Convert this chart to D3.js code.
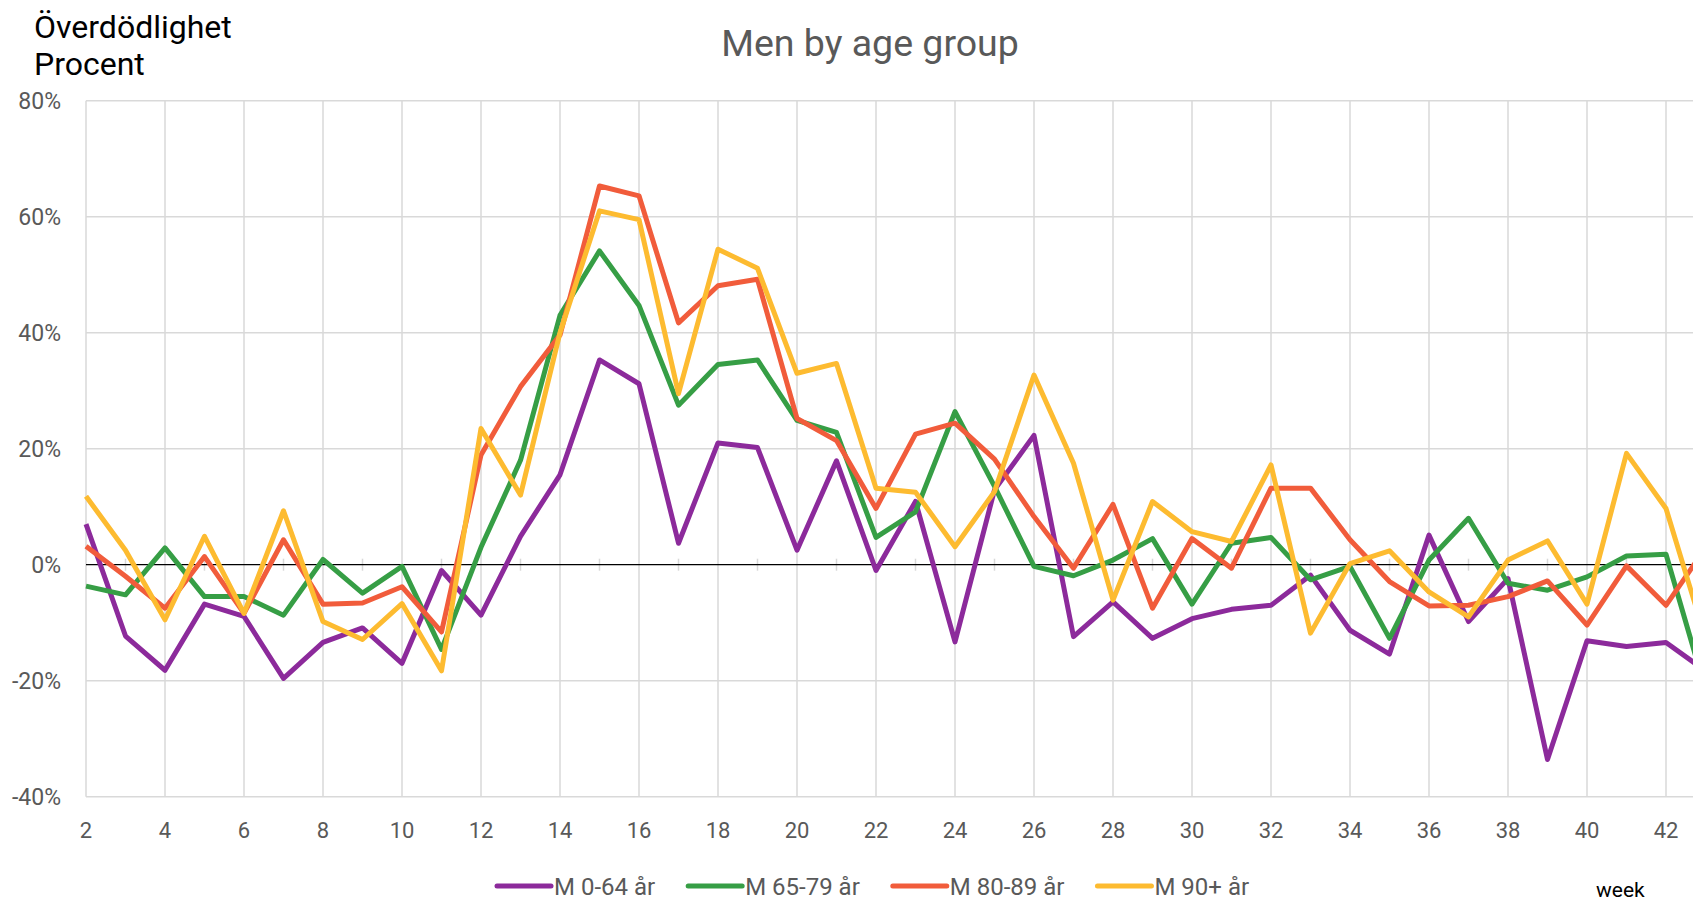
<!DOCTYPE html>
<html>
<head>
  <meta charset="utf-8">
  <script type="text/javascript" src="https://d3js.org/d3.v7.min.js"></script>
  <style>
    body {
      margin: 0;
      background-color: white;
    }
    svg {
      display: block;
      font-family: Roboto, "Noto Sans", sans-serif;
    }
    .series {
      fill: none;
      stroke-width: 5;
      stroke-linejoin: round;
    }
  </style>
</head>
<body>
  <svg id="canvas" width="1693" height="903"></svg>
</body>
<script>
  // weekly excess mortality, percent
  const weeks = [2, 3, 4, 5, 6, 7, 8, 9, 10, 11, 12, 13, 14, 15, 16, 17, 18, 19, 20, 21, 22,
                 23, 24, 25, 26, 27, 28, 29, 30, 31, 32, 33, 34, 35, 36, 37, 38, 39, 40, 41, 42, 43];

  const m0_64 = [7.0, -12.3, -18.2, -6.8, -8.9, -19.6, -13.4, -10.9, -17.0, -1.0, -8.7, 4.9, 15.5, 35.3,
                 31.2, 3.7, 21.0, 20.2, 2.5, 17.9, -1.0, 10.9, -13.3, 12.9, 22.3, -12.4, -6.4, -12.7,
                 -9.3, -7.7, -7.0, -1.8, -11.3, -15.4, 5.1, -9.8, -2.4, -33.6, -13.1, -14.1, -13.4, -18.3];
  const m65_79 = [-3.7, -5.2, 2.9, -5.5, -5.5, -8.7, 0.9, -4.9, -0.3, -14.6, 3.0, 18.0, 43.0, 54.1,
                  44.7, 27.5, 34.5, 35.3, 24.9, 22.8, 4.7, 9.1, 26.4, 13.5, -0.3, -1.9, 0.8, 4.5,
                  -6.8, 3.7, 4.7, -2.6, -0.3, -12.7, 0.8, 8.0, -3.2, -4.4, -2.1, 1.5, 1.8, -21.6];
  const m80_89 = [3.2, -2.0, -7.5, 1.4, -8.4, 4.3, -6.8, -6.6, -3.8, -11.6, 18.9, 30.7, 39.6, 65.3,
                  63.6, 41.7, 48.1, 49.2, 25.2, 21.4, 9.7, 22.5, 24.4, 18.2, 8.3, -0.6, 10.4, -7.5,
                  4.5, -0.6, 13.2, 13.2, 4.3, -2.9, -7.1, -7.0, -5.5, -2.8, -10.4, -0.2, -7.0, 2.9];
  const m90 = [11.8, 2.5, -9.5, 4.9, -8.4, 9.3, -9.8, -12.9, -6.7, -18.3, 23.5, 12.0, 40.0, 61.0,
               59.5, 29.5, 54.4, 51.1, 33.0, 34.7, 13.2, 12.5, 3.1, 12.6, 32.7, 17.5, -6.1, 10.9,
               5.7, 4.0, 17.2, -11.8, 0.2, 2.4, -4.7, -9.0, 0.8, 4.1, -6.8, 19.2, 9.7, -12.7];

  const seriesNames = ["M 0-64 år", "M 65-79 år", "M 80-89 år", "M 90+ år"];
  const seriesColors = ["#8c2a9b", "#369e45", "#f15c3b", "#fdbb30"];
  const yTicks = [-40, -20, 0, 20, 40, 60, 80];
  const xTicks = [2, 4, 6, 8, 10, 12, 14, 16, 18, 20, 22, 24, 26, 28, 30, 32, 34, 36, 38, 40, 42];

  const width = 1693, height = 903;
  const plot = { left: 86, right: 1693, top: 100.7, bottom: 796.7 };
  const grey = "#595959", gridColor = "#d9d9d9";

  let svg = d3.select("svg");

  let x = d3.scaleLinear().domain([2, 42]).range([plot.left, 1666]);
  let y = d3.scaleLinear().domain([-40, 80]).range([plot.bottom, plot.top]);

  draw();

  function draw() {
    drawGrid();
    drawAxes();
    drawSeries();
    drawLegend();
    drawTitles();
  }

  function drawGrid() {
    let g = svg.append("g").attr("class", "grid");
    // horizontal gridlines
    g.selectAll("line.h")
      .data(yTicks.filter(d => d !== 0))
      .join("line")
        .attr("x1", plot.left).attr("x2", plot.right)
        .attr("y1", d => y(d)).attr("y2", d => y(d))
        .attr("stroke", gridColor).attr("stroke-width", 1.5);
    // vertical gridlines at even weeks
    g.selectAll("line.v")
      .data(xTicks)
      .join("line")
        .attr("x1", d => x(d)).attr("x2", d => x(d))
        .attr("y1", plot.top).attr("y2", plot.bottom)
        .attr("stroke", gridColor).attr("stroke-width", 1.5);
  }

  function drawAxes() {
    // zero line with small tick marks at the odd weeks
    let zero = svg.append("g").attr("transform", `translate(0,${y(0)})`);
    zero.selectAll("line.tick")
      .data(weeks.filter(d => d % 2 === 1))
      .join("line")
        .attr("x1", d => x(d)).attr("x2", d => x(d))
        .attr("y1", -6).attr("y2", 6)
        .attr("stroke", gridColor).attr("stroke-width", 1.5);
    zero.append("line")
      .attr("x1", plot.left).attr("x2", plot.right)
      .attr("stroke", "black").attr("stroke-width", 1.3);

    svg.append("g")
      .selectAll("text")
      .data(yTicks)
      .join("text")
        .attr("x", 61)
        .attr("y", d => y(d))
        .attr("dy", "0.36em")
        .attr("text-anchor", "end")
        .attr("font-size", 23)
        .attr("fill", grey)
        .text(d => d + "%");

    svg.append("g")
      .selectAll("text")
      .data(xTicks)
      .join("text")
        .attr("x", d => x(d))
        .attr("y", 838)
        .attr("text-anchor", "middle")
        .attr("font-size", 22)
        .attr("fill", grey)
        .text(d => d);
  }

  function drawSeries() {
    let all = [m0_64, m65_79, m80_89, m90];
    let line = d3.line()
      .x((d, i) => x(weeks[i]))
      .y(d => y(d));
    svg.append("g")
      .selectAll("path")
      .data(all)
      .join("path")
        .attr("class", "series")
        .attr("stroke", (d, i) => seriesColors[i])
        .attr("d", line);
  }

  function drawLegend() {
    let legend = svg.append("g").attr("transform", "translate(497,886)");
    let offset = 0;
    seriesNames.forEach((name, i) => {
      let item = legend.append("g").attr("transform", `translate(${offset},0)`);
      item.append("line")
        .attr("x1", 0).attr("x2", 54)
        .attr("stroke", seriesColors[i])
        .attr("stroke-width", 5)
        .attr("stroke-linecap", "round");
      let label = item.append("text")
        .attr("x", 57)
        .attr("y", 8.5)
        .attr("font-size", 24)
        .attr("fill", grey)
        .text(name);
      offset += 57 + label.node().getComputedTextLength() + 33;
    });

    svg.append("text")
      .attr("x", 1596)
      .attr("y", 897)
      .attr("font-size", 21)
      .attr("fill", "black")
      .text("week");
  }

  function drawTitles() {
    svg.append("text")
      .attr("x", 34).attr("y", 38)
      .attr("font-size", 32)
      .attr("fill", "black")
      .text("Överdödlighet");
    svg.append("text")
      .attr("x", 34).attr("y", 75)
      .attr("font-size", 32)
      .attr("fill", "black")
      .text("Procent");

    svg.append("text")
      .attr("x", 870).attr("y", 56)
      .attr("text-anchor", "middle")
      .attr("font-size", 37.5)
      .attr("fill", grey)
      .text("Men by age group");
  }
</script>
</html>
